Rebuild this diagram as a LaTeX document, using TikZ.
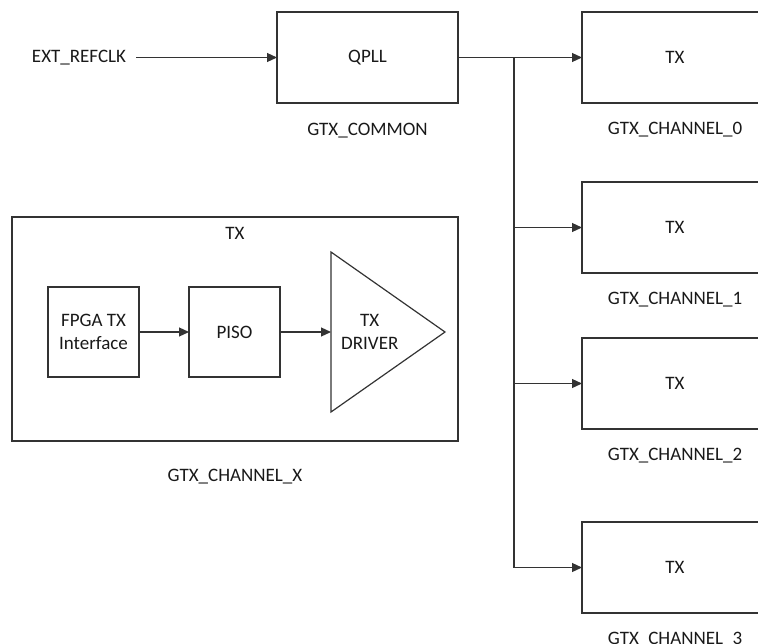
\documentclass[tikz,border=0pt]{standalone}
\usepackage{fontspec}
\setmainfont{Carlito}
\usetikzlibrary{arrows.meta, positioning}

\begin{document}
\begin{tikzpicture}[x=1pt, y=-1pt,
  every node/.style={font=\fontsize{19}{23}\selectfont, text=black!90},
  block/.style={rectangle, draw=black!80, line width=1.2pt, outer sep=0pt, align=center, minimum width=91pt, minimum height=90pt},
  wide/.style={block, minimum width=181pt, minimum height=91pt},
  chan/.style={block, minimum width=186pt, minimum height=91pt},
  tag/.style={inner sep=0pt, align=center},
  arrow/.style={draw=black!80, line width=1.2pt, ->, >={Triangle[length=10pt,width=9pt]}}]

\useasboundingbox (0,0) rectangle (758,643);
\clip (0,0) rectangle (758,643);

% clock source and PLL
\node[wide] (qpll) at (367.5,57.5) {QPLL};
\node[tag, inner xsep=10pt] (refclk) at (79,57.5) {EXT\_REFCLK};
\node[tag, below=20pt of qpll] (common) {GTX\_COMMON};

% channels
\node[chan, right=124pt of qpll] (ch0) {TX};
\node[chan, below=79pt of ch0] (ch1) {TX};
\node[chan, below=65pt of ch1] (ch2) {TX};
\node[chan, below=93pt of ch2] (ch3) {TX};
\foreach \i in {0,...,3}
  \node[tag, below=19pt of ch\i] (lab\i) {GTX\_CHANNEL\_\i};

\coordinate (bus) at (514,57.5);

\draw[arrow] (refclk) -- (qpll);
\draw[arrow] (qpll) -- (ch0);
\draw[arrow] (bus) |- (ch3);
\draw[arrow] (bus |- ch1) -- (ch1);
\draw[arrow] (bus |- ch2) -- (ch2);

% inside one channel
\node[block, minimum width=446pt, minimum height=224pt] (frame) at (235,329) {};
\node[tag, below=10pt of frame.north] (frametitle) {TX};
\node[block] (fpga) at (93.5,332) {FPGA TX\\Interface};
\node[block, right=50pt of fpga] (piso) {PISO};
\coordinate[right=51pt of piso] (drvin);
\draw[draw=black!80, line width=1.2pt] (drvin) ++(0,-80) -- ++(114,80) -- ++(-114,80) -- cycle;
\node[tag, right=10pt of drvin] (drv) {TX\\DRIVER};
\node[tag, below=28pt of frame] (chx) {GTX\_CHANNEL\_X};

\draw[arrow] (fpga) -- (piso);
\draw[arrow] (piso) -- (drvin);

\end{tikzpicture}
\end{document}
